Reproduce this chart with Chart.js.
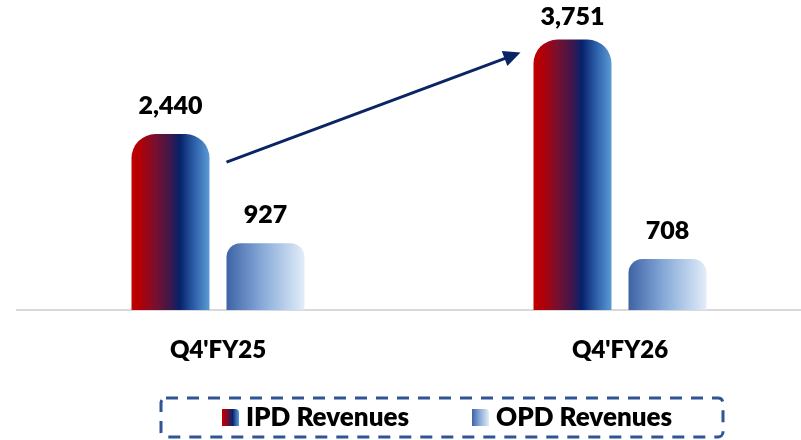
<!DOCTYPE html>
<html><head><meta charset="utf-8">
<script src="https://cdn.jsdelivr.net/npm/chart.js@4.4.1/dist/chart.umd.min.js"></script>
<style>html,body{margin:0;padding:0;background:#fff;overflow:hidden;}#wrap{width:801px;height:440px;position:relative;overflow:hidden;}canvas{position:absolute;left:0;top:0;}</style>
</head><body><div id="wrap"><canvas id="c" width="821" height="440"></canvas></div>
<script>
const categories = ["Q4'FY25", "Q4'FY26"];
const seriesNames = ["IPD Revenues", "OPD Revenues"];
const ipdRevenues = [2440, 3751];
const opdRevenues = [927, 708];
const yMax = 4300;

const FONT = "Lato, 'Open Sans', sans-serif";
const WEIGHT = '800';
const ipdStops = [[0,'#c00000'],[0.12,'#b00008'],[0.3,'#7a0f2e'],[0.48,'#441648'],[0.62,'#06216a'],[0.8,'#2c5ea8'],[1,'#5b9bd5']];
const opdStops = [[0,'#3d63a6'],[0.45,'#86a9d8'],[1,'#e2edf9']];
const stopSets = [ipdStops, opdStops];

function makeGrad(ctx, l, r, stops){
  const g = ctx.createLinearGradient(l,0,r,0);
  stops.forEach(s=>g.addColorStop(s[0], s[1]));
  return g;
}

const gradientPlugin = {
  id:'grad',
  beforeDatasetsDraw(chart){
    const ctx = chart.ctx;
    chart.data.datasets.forEach((ds,i)=>{
      chart.getDatasetMeta(i).data.forEach(bar=>{
        const l = bar.x - bar.width/2, r = bar.x + bar.width/2;
        const o = Object.assign({}, bar.options);
        o.backgroundColor = makeGrad(ctx, l, r, stopSets[i]);
        bar.options = o;
      });
    });
  }
};

const labelPlugin = {
  id:'vals',
  afterDatasetsDraw(chart){
    const ctx = chart.ctx;
    ctx.save();
    ctx.font = WEIGHT + " 25px " + FONT;
    ctx.fillStyle = '#000';
    ctx.textAlign = 'center';
    ctx.textBaseline = 'middle';
    chart.data.datasets.forEach((ds,i)=>{
      chart.getDatasetMeta(i).data.forEach((bar,j)=>{
        const y = Math.max(bar.y - 28, 17);
        ctx.fillText(ds.data[j].toLocaleString('en-US'), bar.x, y);
      });
    });
    // growth arrow between IPD bars
    const m = chart.getDatasetMeta(0).data;
    const a = m[0], b = m[1];
    const x1 = a.x + a.width/2 + 17, y1 = a.y + 28;
    const x2 = b.x - b.width/2 - 13, y2 = b.y + 13;
    const ang = Math.atan2(y2-y1, x2-x1);
    const hl = 17, hw = 8;
    const bx = x2 - hl*Math.cos(ang), by = y2 - hl*Math.sin(ang);
    ctx.strokeStyle = '#0a2464';
    ctx.fillStyle = '#0a2464';
    ctx.lineWidth = 3;
    ctx.beginPath(); ctx.moveTo(x1,y1); ctx.lineTo(bx+2*Math.cos(ang),by+2*Math.sin(ang)); ctx.stroke();
    ctx.beginPath();
    ctx.moveTo(x2,y2);
    ctx.lineTo(bx + hw*Math.sin(ang), by - hw*Math.cos(ang));
    ctx.lineTo(bx - hw*Math.sin(ang), by + hw*Math.cos(ang));
    ctx.closePath(); ctx.fill();
    ctx.restore();
  }
};

function roundRectPath(ctx,x,y,w,h,r){
  ctx.beginPath();
  ctx.moveTo(x+r,y); ctx.lineTo(x+w-r,y); ctx.arcTo(x+w,y,x+w,y+r,r);
  ctx.lineTo(x+w,y+h-r); ctx.arcTo(x+w,y+h,x+w-r,y+h,r);
  ctx.lineTo(x+r,y+h); ctx.arcTo(x,y+h,x,y+h-r,r);
  ctx.lineTo(x,y+r); ctx.arcTo(x,y,x+r,y,r); ctx.closePath();
}

const legendPlugin = {
  id:'customLegend',
  afterDraw(chart){
    const ctx = chart.ctx;
    ctx.save();
    ctx.setLineDash([12,9]);
    ctx.lineWidth = 3;
    ctx.strokeStyle = '#2f5597';
    roundRectPath(ctx, 161, 398, 562, 39, 5);
    ctx.stroke();
    ctx.setLineDash([]);
    const items = [{x:222}, {x:472}];
    ctx.font = WEIGHT + " 26px " + FONT;
    ctx.textBaseline = 'middle';
    ctx.textAlign = 'left';
    chart.data.datasets.forEach((ds,i)=>{
      const ix = items[i].x, iy = 409, iw = 17, ih = 17;
      ctx.fillStyle = makeGrad(ctx, ix, ix+iw, stopSets[i]);
      ctx.beginPath();
      ctx.moveTo(ix,iy); ctx.lineTo(ix+iw-4,iy); ctx.arcTo(ix+iw,iy,ix+iw,iy+4,4);
      ctx.lineTo(ix+iw,iy+ih); ctx.lineTo(ix,iy+ih); ctx.closePath(); ctx.fill();
      ctx.fillStyle = '#000';
      ctx.fillText(ds.label, ix+iw+7, 418);
    });
    ctx.restore();
  }
};

new Chart(document.getElementById('c'), {
  type:'bar',
  data:{
    labels: categories,
    datasets:[
      {label: seriesNames[0], data: ipdRevenues, backgroundColor:'#7a1030', borderRadius:{topLeft:24, topRight:24, bottomLeft:0, bottomRight:0}, borderSkipped:'bottom'},
      {label: seriesNames[1], data: opdRevenues, backgroundColor:'#86a9d8', borderRadius:{topLeft:14, topRight:14, bottomLeft:0, bottomRight:0}, borderSkipped:'bottom'}
    ]
  },
  options:{
    responsive:false,
    animation:false,
    events:[],
    layout:{padding:{left:17, right:0, top:0, bottom:60}},
    datasets:{bar:{categoryPercentage:0.4726, barPercentage:0.821}},
    plugins:{legend:{display:false}, tooltip:{enabled:false}},
    scales:{
      x:{
        grid:{display:false, drawTicks:false},
        border:{display:true, color:'#d9d9d9', width:2},
        ticks:{color:'#000', padding:26, maxRotation:0, font:{family:FONT, size:24, weight:WEIGHT}},
        afterFit(s){ s.height = 70; }
      },
      y:{display:false, min:0, max:yMax}
    }
  },
  plugins:[gradientPlugin, labelPlugin, legendPlugin]
});
</script>
</body></html>
